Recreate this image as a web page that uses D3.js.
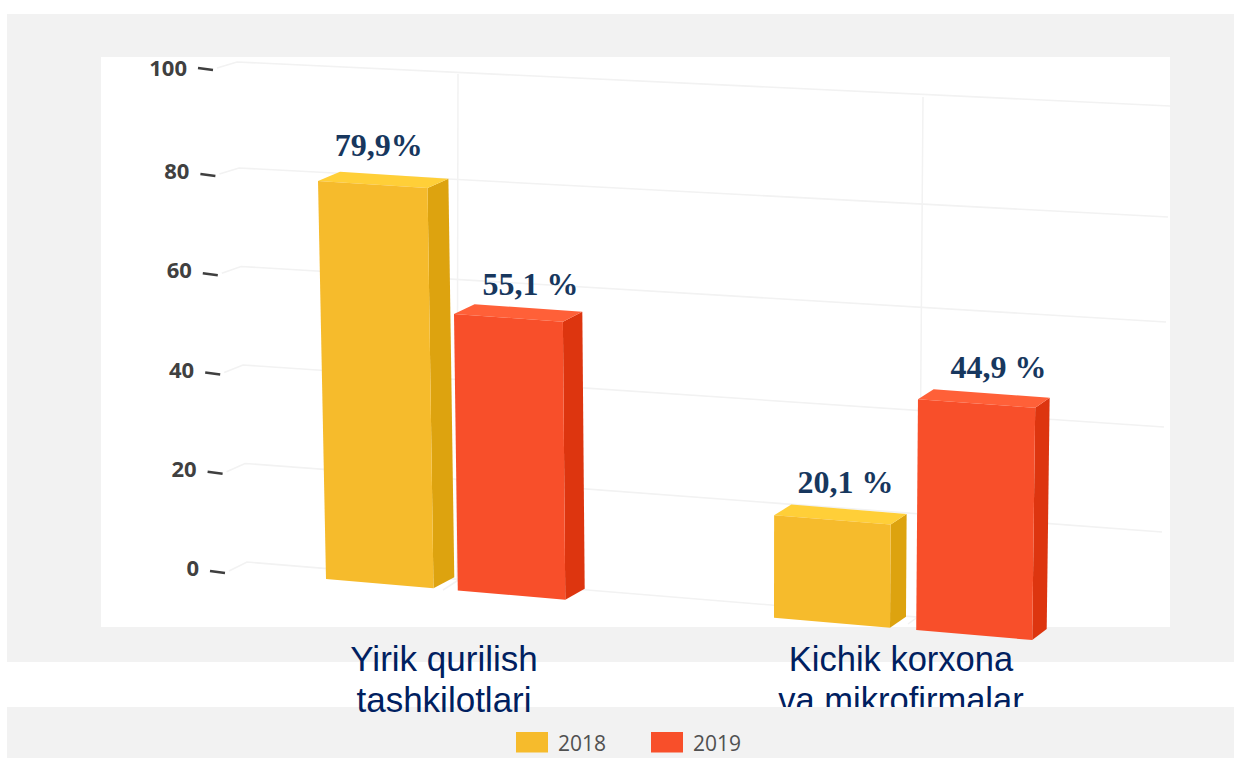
<!DOCTYPE html>
<html><head><meta charset="utf-8">
<script src="https://cdnjs.cloudflare.com/ajax/libs/d3/7.8.5/d3.min.js"></script>
<style>html,body{margin:0;padding:0;background:#fff;overflow:hidden}svg{display:block}</style>
</head><body><svg id="c" width="1234" height="758"></svg>
<script>
const categories = ["Yirik qurilish|tashkilotlari", "Kichik korxona|va mikrofirmalar"];
const years = ["2018", "2019"];
const values2018 = [79.9, 20.1];
const values2019 = [55.1, 44.9];
const labels2018 = ["79,9%", "20,1 %"];
const labels2019 = ["55,1 %", "44,9 %"];
const yTicks = [0, 20, 40, 60, 80, 100];

const faces = {
  "2018": {front:"#f6bb2c", side:"#dda30f", top:"#ffcf38"},
  "2019": {front:"#f84f2a", side:"#dd350f", top:"#ff6038"}
};
const seriesValues = {"2018":values2018, "2019":values2019};
const seriesLabels = {"2018":labels2018, "2019":labels2019};
const labelNudgeX = {"2018":[6,13], "2019":[22,22]};
const labelNudgeY = {"2018":[-16,-12], "2019":[-9,-11]};

const svg = d3.select("#c");
const W=1234,H=758;

// Panels
svg.append("rect").attr("x",7).attr("y",14).attr("width",W-7).attr("height",648).attr("fill","#f2f2f2");
svg.append("rect").attr("x",7).attr("y",707).attr("width",W-7).attr("height",51).attr("fill","#f2f2f2");
svg.append("rect").attr("x",101).attr("y",57).attr("width",1069).attr("height",570).attr("fill","#fff");

svg.append("defs").append("clipPath").attr("id","panelClip").append("rect")
  .attr("x",101).attr("y",57).attr("width",1069).attr("height",570);
svg.select("defs").append("clipPath").attr("id","bandClip").append("rect")
  .attr("x",0).attr("y",0).attr("width",W).attr("height",707);

// Scales: oblique projection of the 3D column chart
const catStart = d3.scalePoint().domain(categories).range([326,774]);
const catUnit = d3.scalePoint().domain(categories).range([107.5,116]);
const serX = d3.scaleBand().domain(years).range([0,2.226]).paddingInner(0.1843);
const floorY = d3.scaleLinear().domain([326,916]).range([579,630]);
const unit = d3.scaleLinear().domain([326,916]).range([4.98,5.14]);
const lean = d3.scaleLinear().domain([326,750]).range([-0.1,0]);
const depthX = d3.scaleLinear().domain([318,1030]).range([22,14.5]);
const depthY = d3.scaleLinear().domain([0,100]).range([-11,-9]);

function project(gx, v, d){
  const x = gx + lean(gx)*v;
  const y = floorY(gx) - unit(gx)*v;
  return [x + d*depthX(x), y + d*depthY(v)];
}

// Grid on the back wall
const wallLeftX = d3.scaleLinear().domain([0,100]).range([247,237]);
const wallLeftY = d3.scaleLinear().domain([0,80,100]).range([562,168,62]);
const wallRightX = d3.scaleLinear().domain([0,100]).range([1160,1170]);
const wallRightY = d3.scaleLinear().domain([0,80,100]).range([637,217,106]);
const tickX = d3.scaleLinear().domain([0,100]).range([225,213]);
const tickY = d3.scaleLinear().domain([0,80,100]).range([572,175,69]);

const grid = svg.append("g").attr("clip-path","url(#panelClip)");
grid.selectAll(".h").data(yTicks).join("polyline")
  .attr("points",v=>[[tickX(v)+4,tickY(v)-1],[wallLeftX(v),wallLeftY(v)],[wallRightX(v),wallRightY(v)]].join(" "))
  .attr("fill","none").attr("stroke","#f2f2f2").attr("stroke-width",1.6);

// Vertical dividers between categories, with their floor segment
const dividers = [0, 1];
const divTopX = d3.scaleLinear().domain([0,1]).range([458,923]);
const divTopY = d3.scaleLinear().domain([0,1]).range([74,97]);
const divBaseX = d3.scaleLinear().domain([0,1]).range([457,919]);
const divBaseY = d3.scaleLinear().domain([0,1]).range([581,616]);
const divFloorX = d3.scaleLinear().domain([0,1]).range([443,908]);
const divFloorY = d3.scaleLinear().domain([0,1]).range([590,624]);
grid.selectAll(".v").data(dividers).join("polyline")
  .attr("points",i=>[[divTopX(i),divTopY(i)],[divBaseX(i),divBaseY(i)],[divFloorX(i),divFloorY(i)]].join(" "))
  .attr("fill","none").attr("stroke","#f2f2f2").attr("stroke-width",1.5);

// Ticks and labels
const ticks = svg.append("g");
ticks.selectAll("line").data(yTicks).join("line")
  .attr("x1",v=>tickX(v)-15).attr("x2",v=>tickX(v))
  .attr("y1",v=>tickY(v)-1).attr("y2",v=>tickY(v)+1)
  .attr("stroke","#3f3f3f").attr("stroke-width",2.4);
ticks.selectAll("text").data(yTicks).join("text")
  .attr("x",v=>tickX(v)-26).attr("y",v=>tickY(v)+ (v===100?6.5:4))
  .attr("text-anchor","end")
  .attr("font-family","'Open Sans'").attr("font-weight",700).attr("font-size",22)
  .attr("fill","#404040").text(d=>d);

// Bars
const bars = [];
categories.forEach((c,i)=>years.forEach(y=>{
  bars.push({c,i,y,v:seriesValues[y][i],label:seriesLabels[y][i],dx:labelNudgeX[y][i],dy:labelNudgeY[y][i]});
}));
const gBars = svg.append("g");
bars.forEach(b=>{
  const f = catUnit(b.c);
  const x0 = catStart(b.c)+f*serX(b.y), x1 = x0+f*serX.bandwidth(), col = faces[b.y];
  const P=project;
  const g = gBars.append("g");
  g.append("polygon").attr("points",[P(x1,0,0),P(x1,0,1),P(x1,b.v,1),P(x1,b.v,0)].join(" ")).attr("fill",col.side);
  g.append("polygon").attr("points",[P(x0,b.v,0),P(x0,b.v,1),P(x1,b.v,1),P(x1,b.v,0)].join(" ")).attr("fill",col.top);
  g.append("polygon").attr("points",[P(x0,0,0),P(x1,0,0),P(x1,b.v,0),P(x0,b.v,0)].join(" ")).attr("fill",col.front);
  const tl=P(x0,b.v,0), tr=P(x1,b.v,0), back=P(x0,b.v,1);
  svg.append("text").attr("x",(tl[0]+tr[0])/2+b.dx).attr("y",back[1]+b.dy)
    .attr("text-anchor","middle").attr("font-family","'Liberation Serif'")
    .attr("font-weight",700).attr("font-size",32).attr("fill","#17375e").text(b.label);
});

// Category labels
const catCenter = d3.scalePoint().domain(categories).range([444,901]);
const catFont = d3.scalePoint().domain(categories).range([35,34.5]);
categories.forEach((c,i)=>{
  const g = svg.append("g");
  if(i===1) g.attr("clip-path","url(#bandClip)");
  c.split("|").forEach((t,j)=>{
    g.append("text").attr("x",catCenter(c)).attr("y",671+41*j)
      .attr("text-anchor","middle").attr("font-family","'Liberation Sans'")
      .attr("font-size",catFont(c)).attr("fill","#002060").text(t);
  });
});

// Legend
const legX = d3.scalePoint().domain(years).range([516,651]);
const leg = svg.selectAll(".leg").data(years).join("g");
leg.append("rect").attr("x",y=>legX(y)).attr("y",732).attr("width",32).attr("height",20.5).attr("fill",y=>faces[y].front);
leg.append("text").attr("x",y=>legX(y)+42).attr("y",750.5)
  .attr("font-family","'Open Sans'").attr("font-size",21).attr("fill","#505050").text(y=>y);
</script></body></html>
